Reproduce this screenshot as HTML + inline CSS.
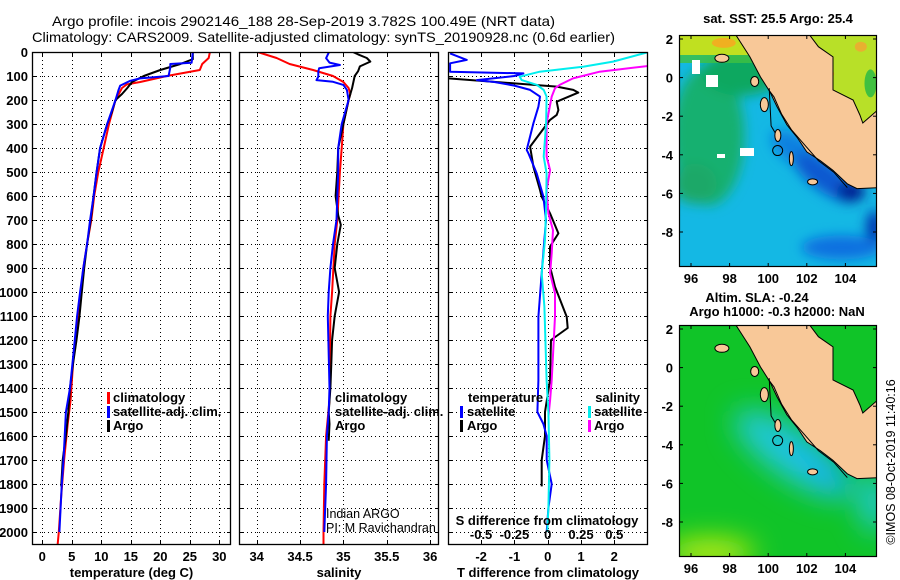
<!DOCTYPE html>
<html><head><meta charset="utf-8"><style>
html,body{margin:0;padding:0;background:#fff;}
svg{display:block;font-family:"Liberation Sans",sans-serif;}
.t{font-size:13px;font-weight:bold;}
.ttl{font-size:14px;}
</style></head><body>
<svg id="fig" width="900" height="580" viewBox="0 0 900 580" xmlns="http://www.w3.org/2000/svg">
<text class="ttl" x="52" y="26" textLength="503" lengthAdjust="spacingAndGlyphs">Argo profile: incois 2902146_188 28-Sep-2019 3.782S 100.49E (NRT data)</text>
<text class="ttl" x="32" y="42" textLength="583" lengthAdjust="spacingAndGlyphs">Climatology: CARS2009. Satellite-adjusted climatology: synTS_20190928.nc (0.6d earlier)</text>
<g id="panels"></g>
<g id="maps"></g>
<text x="0" y="0" font-size="12.5" transform="translate(895,462) rotate(-90)" text-anchor="middle">©IMOS 08-Oct-2019 11:40:16</text>
</svg>
<script>
// ---------- DATA ----------
const depthTicks = [0,100,200,300,400,500,600,700,800,900,1000,1100,1200,1300,1400,1500,1600,1700,1800,1900,2000];
const tempTicks = [0,5,10,15,20,25,30];
const salTicks = [34,34.5,35,35.5,36];
const salTickLabels = ["34","34.5","35","35.5","36"];
const tdiffTicks = [-2,-1,0,1,2];
const sdiffTicks = [-0.5,-0.25,0,0.25,0.5];
const sdiffTickLabels = ["-0.5","-0.25","0","0.25","0.5"];

const tClimDepth = [0,25,50,75,100,125,135,150,200,300,400,500,600,700,800,900,1000,1100,1200,1300,1450,1550,1700,1850,2000,2054];
const tClim = [28.4,28.2,27.1,26.7,21.1,16.6,14.3,13.5,12.4,11.3,10.4,9.5,8.8,8.3,7.6,6.95,6.55,6.0,5.6,5.2,4.8,4.3,3.7,3.2,2.8,2.6];
const tSatDepth = [0,45,50,65,100,110,120,140,160,200,300,400,500,600,700,800,900,1000,1100,1200,1300,1400,1500,1600,1700,1800,1900,2000];
const tSat = [25.5,25.3,21.7,21.7,21.4,16.6,14.9,13.2,12.9,12.4,11.0,9.8,9.2,8.7,8.1,7.6,6.95,6.4,5.9,5.5,5.1,4.7,4.0,3.8,3.6,3.3,3.1,2.9];
const tArgoDepth = [0,30,50,75,100,125,150,175,200,250,300,400,500,600,700,800,900,1000,1100,1200,1300,1400,1500,1600,1700,1810];
const tArgo = [25.5,25.5,23.4,20.0,17.2,15.2,14.4,13.5,12.4,11.8,11.0,9.8,9.2,8.7,8.2,7.6,7.1,6.7,6.3,5.8,5.2,4.7,4.4,4.0,3.45,3.2];

const sClimDepth = [0,25,50,75,100,125,150,175,200,300,400,500,700,800,1000,1100,1450,1600,1800,2000,2054];
const sClim = [34.01,34.23,34.38,34.65,34.88,35.0,35.06,35.08,35.06,35.0,34.98,34.96,34.93,34.90,34.87,34.85,34.84,34.80,34.78,34.77,34.77];
const sSatDepth = [0,0,3,26,44,54,68,82,103,117,124,137,158,200,300,400,500,700,800,900,1000,1100,1400,1500,1600,1800,1900,2000];
const sSat = [34.41,34.83,34.83,34.80,34.84,34.96,34.72,34.71,34.71,34.69,34.88,35.0,35.04,35.06,34.98,34.94,34.94,34.92,34.88,34.85,34.83,34.82,34.84,34.83,34.81,34.80,34.79,34.78];
const sArgoDepth = [0,10,25,40,60,80,100,150,200,300,400,500,600,680,720,800,900,1000,1100,1200,1300,1400,1500,1550,1620];
const sArgo = [35.11,35.17,35.27,35.31,35.19,35.17,35.13,35.10,35.06,35.0,34.94,34.93,34.91,34.94,34.97,34.93,34.90,34.95,34.90,34.87,34.86,34.85,34.83,34.84,34.83];

const dTSatDepth = [6,33,47,82,89,100,117,125,140,158,186,228,297,408,422,506,603,700,922,1103,1367,1500,1550,1600,1700,1800,1900,2000];
const dTSat = [-2.93,-2.43,-2.93,-2.93,-0.73,-1.0,-2.13,-1.6,-1.0,-0.53,-0.23,-0.28,-0.43,-0.63,-0.58,-0.33,-0.13,-0.05,-0.18,-0.28,-0.28,-0.31,-0.13,-0.03,-0.03,0.12,0.02,-0.03];
const dTArgoDepth = [110,144,158,169,207,242,262,283,339,394,478,575,603,672,756,811,894,978,1103,1150,1200,1367,1500,1600,1700,1810];
const dTArgo = [-2.98,0.27,0.77,0.92,0.27,0.32,0.27,0.07,-0.23,-0.53,-0.43,-0.23,-0.18,0.07,0.32,0.07,0.07,0.22,0.57,0.6,0.1,0.07,-0.08,-0.08,-0.18,-0.18];
const dSSatDepth = [0,40,61,82,103,117,137,158,186,297,436,506,644,783,922,1061,1367,1500,1700,1900,2000];
const dSSat = [0.76,0.49,0.27,-0.06,-0.21,-0.195,-0.08,-0.03,-0.008,-0.012,-0.03,-0.008,-0.012,-0.02,-0.045,-0.025,-0.008,0.005,0.013,0.005,-0.003];
const dSArgoDepth = [40,58,82,110,137,151,186,297,436,492,575,672,742,839,922,1006,1103,1367,1450,1520];
const dSArgo = [0.8,0.76,0.39,0.19,0.09,0.055,0.03,-0.008,-0.008,0.018,-0.008,0.005,0.04,0.03,0.018,0.055,0.055,0.03,0.018,0.005];

// ---------- DRAWING ----------
const NS = "http://www.w3.org/2000/svg";
const PT = 52, PB = 545;
const yD = d => PT + d * 0.24;
function mk(tag, attrs, parent) {
  const e = document.createElementNS(NS, tag);
  for (const k in attrs) e.setAttribute(k, attrs[k]);
  parent.appendChild(e);
  return e;
}
function txt(parent, x, y, s, anchor, cls, size, weight) {
  const e = mk("text", {x: x, y: y, "text-anchor": anchor || "start"}, parent);
  if (cls) e.setAttribute("class", cls);
  if (size) e.setAttribute("font-size", size);
  if (weight) e.setAttribute("font-weight", weight);
  e.textContent = s;
  return e;
}
const panelsG = document.getElementById("panels");

function panel(id, L, R, xs, xTicks, xLabels, title, showDepth) {
  const g = mk("g", {}, panelsG);
  
  
  const cp = mk("clipPath", {id: "clip-" + id}, g);
  mk("rect", {x: L, y: PT, width: R - L, height: PB - PT}, cp);
  const grid = mk("g", {stroke: "#000", "stroke-width": 1, "stroke-dasharray": "1,3"}, g);
  
  
  depthTicks.forEach(d => mk("line", {x1: L, x2: R, y1: yD(d) + 0.5, y2: yD(d) + 0.5}, grid));
  xTicks.forEach(v => mk("line", {x1: Math.round(xs(v)) + 0.5, x2: Math.round(xs(v)) + 0.5, y1: PT, y2: PB}, grid));
  const tk = mk("g", {stroke: "#000", "stroke-width": 1}, g);
  depthTicks.forEach(d => { mk("line", {x1: L, x2: L + 4, y1: yD(d) + 0.5, y2: yD(d) + 0.5}, tk); mk("line", {x1: R - 4, x2: R, y1: yD(d) + 0.5, y2: yD(d) + 0.5}, tk); });
  xTicks.forEach(v => { const x = Math.round(xs(v)) + 0.5; mk("line", {x1: x, x2: x, y1: PB - 5, y2: PB}, tk); mk("line", {x1: x, x2: x, y1: PT, y2: PT + 5}, tk); });
  const xl = mk("g", {class: "t"}, g);
  
  
  xTicks.forEach((v, i) => txt(xl, xs(v), 561, xLabels[i], "middle"));
  const tt = txt(g, (L + R) / 2, 577, title, "middle", "t");
  
  
  if (showDepth) {
    const yl = mk("g", {class: "t"}, g);
    
    
    depthTicks.forEach(d => txt(yl, 28, yD(d) + 5, String(d), "end"));
  }
  const lines = mk("g", {"clip-path": "url(#clip-" + id + ")", fill: "none", "stroke-width": 2, "stroke-linejoin": "round"}, g);
  mk("rect", {x: L + 0.5, y: PT + 0.5, width: R - L - 1, height: PB - PT - 1, fill: "none", stroke: "#000", "stroke-width": 1.3}, g);
  return {g: g, lines: lines};
}
function series(p, name, depths, vals, xs, color) {
  const pts = depths.map((d, i) => xs(vals[i]).toFixed(1) + "," + yD(d).toFixed(1)).join(" ");
  const pl = mk("polyline", {points: pts, stroke: color}, p.lines);
  
  
}
function legendItem(g, name, mx, x, y, color, label, anchor) {
  const it = mk("g", {}, g);
  
  
  if (color) mk("rect", {x: mx, y: y - 10, width: 3, height: 12, fill: color}, it);
  txt(it, x, y, label, anchor || "start", "t");
}

// Temperature panel
const xT = v => 42.3 + v * 5.9;
const p1 = panel("temperature-panel", 32, 231, xT, tempTicks, tempTicks.map(String), "temperature (deg C)", true);
series(p1, "temp-climatology-line", tClimDepth, tClim, xT, "#ff0000");
series(p1, "temp-argo-line", tArgoDepth, tArgo, xT, "#000000");
series(p1, "temp-satellite-line", tSatDepth, tSat, xT, "#0000ff");
legendItem(p1.g, "legend-climatology", 107, 113, 402, "#ff0000", "climatology");
legendItem(p1.g, "legend-satellite-adj", 107, 113, 416, "#0000ff", "satellite-adj. clim.");
legendItem(p1.g, "legend-argo", 107, 113, 430, "#000000", "Argo");

// Salinity panel
const xS = v => 256.7 + (v - 34) * 86.7;
const p2 = panel("salinity-panel", 239, 439, xS, salTicks, salTickLabels, "salinity", false);
series(p2, "sal-climatology-line", sClimDepth, sClim, xS, "#ff0000");
series(p2, "sal-argo-line", sArgoDepth, sArgo, xS, "#000000");
series(p2, "sal-satellite-line", sSatDepth, sSat, xS, "#0000ff");
legendItem(p2.g, "legend-climatology-sal", 0, 335, 402, null, "climatology");
legendItem(p2.g, "legend-satellite-sal", 0, 335, 416, null, "satellite-adj. clim.");
legendItem(p2.g, "legend-argo-sal", 0, 335, 430, null, "Argo");
const ia = txt(p2.g, 326, 518, "Indian ARGO", "start", null, 12.5);


const pi = txt(p2.g, 326, 532, "PI: M Ravichandran", "start", null, 12.5);



// Difference panel
const xDT = v => 547.7 + v * 33.3;
const xDS = v => 547.7 + v * 133.2;
const p3 = panel("difference-panel", 448, 648, xDT, tdiffTicks, tdiffTicks.map(String), "T difference from climatology", false);
series(p3, "tdiff-argo-line", dTArgoDepth, dTArgo, xDT, "#000000");
series(p3, "sdiff-argo-line", dSArgoDepth, dSArgo, xDS, "#ff00ff");
series(p3, "tdiff-satellite-line", dTSatDepth, dTSat, xDT, "#0000ff");
series(p3, "sdiff-satellite-line", dSSatDepth, dSSat, xDS, "#00eeee");
legendItem(p3.g, "legend-temperature-head", 0, 468, 402, null, "temperature");
legendItem(p3.g, "legend-tdiff-satellite", 460, 467, 416, "#0000ff", "satellite");
legendItem(p3.g, "legend-tdiff-argo", 460, 467, 430, "#000000", "Argo");
legendItem(p3.g, "legend-salinity-head", 0, 640, 402, null, "salinity", "end");
legendItem(p3.g, "legend-sdiff-satellite", 588, 594, 416, "#00eeee", "satellite");
legendItem(p3.g, "legend-sdiff-argo", 588, 594, 430, "#ff00ff", "Argo");
const sdt = txt(p3.g, 547, 525, "S difference from climatology", "middle", "t");


const sdl = mk("g", {class: "t"}, p3.g);


sdiffTicks.forEach((v, i) => txt(sdl, xDS(v), 539, sdiffTickLabels[i], "middle"));

// ---------- MAPS ----------
const mapsG = document.getElementById("maps");
function map(id, top, kind) {
  const L = 679, R = 877, T = top, B = top + 232;
  const lx = lon => 691 + (lon - 96) * 19.3;
  const ly = lat => top + 4 + (2 - lat) * 19.3;
  const poly = pts => pts.map(p => lx(p[0]).toFixed(1) + "," + ly(p[1]).toFixed(1)).join(" ");
  const g = mk("g", {}, mapsG);
  
  
  const defs = mk("defs", {}, g);
  const cp = mk("clipPath", {id: "mc-" + id}, defs);
  mk("rect", {x: L, y: T, width: R - L, height: B - T}, cp);
  const blur = mk("filter", {id: "bl-" + id, x: "-50%", y: "-50%", width: "200%", height: "200%"}, defs);
  mk("feGaussianBlur", {stdDeviation: kind === "sst" ? 6 : 14}, blur);
  const c = mk("g", {"clip-path": "url(#mc-" + id + ")"}, g);
  const eastRegion = [[102.0,2.4],[105.8,2.4],[105.8,-1.57],[104.9,-2.35],[104.75,-1.94],[104.4,-1.16],[103.36,-0.64],[103.36,1.07],[102.6,1.6]];
  if (kind === "sst") {
    mk("rect", {x: L, y: T, width: 200, height: 232, fill: "#14b8e4"}, c);
    const f = mk("g", {filter: "url(#bl-" + id + ")"}, c);
    mk("ellipse", {cx: lx(96.9), cy: ly(-3.0), rx: 36, ry: 70, fill: "#18b070"}, f);
    mk("ellipse", {cx: lx(98.6), cy: ly(0.2), rx: 40, ry: 22, fill: "#10a860"}, f);
    mk("ellipse", {cx: lx(96.2), cy: ly(-5.5), rx: 22, ry: 20, fill: "#1ca868"}, f);
    mk("ellipse", {cx: lx(101.5), cy: ly(-3.8), rx: 30, ry: 14, fill: "#1080e0", transform: "rotate(35," + lx(101.5) + "," + ly(-3.8) + ")"}, f);
    mk("ellipse", {cx: lx(103), cy: ly(-5.2), rx: 38, ry: 14, fill: "#0a58d0", transform: "rotate(35," + lx(103) + "," + ly(-5.2) + ")"}, f);
    mk("ellipse", {cx: lx(104.3), cy: ly(-5.9), rx: 14, ry: 10, fill: "#001a90"}, f);
    mk("ellipse", {cx: lx(105.5), cy: ly(-7.8), rx: 8, ry: 18, fill: "#0030b0"}, f);
    mk("ellipse", {cx: lx(103.8), cy: ly(-8.8), rx: 40, ry: 12, fill: "#1070e0"}, f);
    mk("rect", {x: L, y: T, width: 95, height: 20, fill: "#c0e020"}, c);
    mk("ellipse", {cx: lx(97.7), cy: ly(1.8), rx: 12, ry: 5, fill: "#f0b020"}, c);
    mk("rect", {x: L, y: T + 20, width: 90, height: 8, fill: "#40c040", opacity: 0.8}, c);
    const er = mk("polygon", {points: poly(eastRegion), fill: "#b8e028"}, c);
    
    
    mk("ellipse", {cx: lx(103.0), cy: ly(0.2), rx: 8, ry: 5, fill: "#f0b020"}, c);
    mk("ellipse", {cx: lx(104.8), cy: ly(1.6), rx: 6, ry: 5, fill: "#e8b030"}, c);
    mk("ellipse", {cx: lx(105.3), cy: ly(-0.3), rx: 6, ry: 14, fill: "#40c040"}, c);
    mk("rect", {x: 692, y: T + 25, width: 8, height: 14, fill: "#fff"}, c);
    mk("rect", {x: 706, y: T + 40, width: 12, height: 12, fill: "#fff"}, c);
    mk("rect", {x: 740, y: T + 113, width: 14, height: 8, fill: "#fff"}, c);
    mk("rect", {x: 717, y: T + 119, width: 8, height: 4, fill: "#fff"}, c);
  } else {
    mk("rect", {x: L, y: T, width: 200, height: 232, fill: "#10c428"}, c);
    const f = mk("g", {filter: "url(#bl-" + id + ")"}, c);
    mk("ellipse", {cx: lx(101.3), cy: ly(-4.5), rx: 70, ry: 24, fill: "#20c8d8", transform: "rotate(35," + lx(101.3) + "," + ly(-4.5) + ")"}, f);
    mk("ellipse", {cx: lx(102.5), cy: ly(-4.8), rx: 42, ry: 12, fill: "#18b8ee", transform: "rotate(35," + lx(102.5) + "," + ly(-4.8) + ")"}, f);
    mk("ellipse", {cx: lx(103.2), cy: ly(-5.8), rx: 14, ry: 10, fill: "#10a8f0"}, f);
    mk("ellipse", {cx: lx(97), cy: ly(-9.6), rx: 45, ry: 14, fill: "#c8ee10"}, f);
    mk("ellipse", {cx: lx(105.5), cy: ly(-7.0), rx: 14, ry: 30, fill: "#20c8e0"}, f);
    const er = mk("polygon", {points: poly(eastRegion), fill: "#10c428"}, c);
    
    
  }
  const land = [[98.2,2.4],[102.0,2.4],[102.6,1.6],[103.36,1.07],[103.36,-0.64],[104.4,-1.16],[104.75,-1.94],[104.9,-2.35],[105.8,-1.57],[105.8,-5.7],[104.6,-5.75],[104.1,-5.5],[103.35,-4.8],[102.7,-4.3],[102,-3.85],[101.5,-3.1],[100.97,-2.45],[100.45,-1.5],[100.1,-0.75],[99.6,0.03],[99.05,1.07]];
  const lp = mk("polygon", {points: poly(land), fill: "#f8c898", stroke: "#000", "stroke-width": 1}, c);
  
  
  const shelf = [[100.0,-0.6],[100.3,-1.0],[100.7,-1.9],[101.2,-2.7],[101.9,-3.5],[102.6,-4.3],[103.4,-4.9],[104.1,-5.7]];
  mk("polyline", {points: poly(shelf), fill: "none", stroke: "#000", "stroke-width": 1}, c);
  mk("polyline", {points: poly([[100.05,-0.55],[100.15,-2.5],[100.5,-3.1]]), fill: "none", stroke: "#000", "stroke-width": 1}, c);
  [[97.6,1.0,7,4],[99.3,-0.2,4,5],[99.8,-1.4,4,7],[100.5,-3.0,3,6],[101.2,-4.2,2,7],[102.3,-5.4,5,3]].forEach(a => {
    mk("ellipse", {cx: lx(a[0]), cy: ly(a[1]), rx: a[2], ry: a[3], fill: "#f8c898", stroke: "#000", "stroke-width": 1}, c);
  });
  const pos = mk("circle", {cx: lx(100.49), cy: ly(-3.78), r: 5, fill: "none", stroke: "#000", "stroke-width": 1}, c);
  
  
  mk("rect", {x: L + 0.5, y: T + 0.5, width: R - L - 1, height: B - T - 1, fill: "none", stroke: "#000", "stroke-width": 1.2}, g);
  const ticks = mk("g", {class: "t"}, g);
  
  
  [2,0,-2,-4,-6,-8].forEach(la => {
    txt(ticks, 673, ly(la) + 5, String(la), "end");
    mk("line", {x1: L, x2: L + 4, y1: ly(la), y2: ly(la), stroke: "#000"}, g);
    mk("line", {x1: R - 4, x2: R, y1: ly(la), y2: ly(la), stroke: "#000"}, g);
  });
  [96,98,100,102,104].forEach(lo => {
    txt(ticks, lx(lo), B + 16, String(lo), "middle");
    mk("line", {x1: lx(lo), x2: lx(lo), y1: B - 4, y2: B, stroke: "#000"}, g);
    mk("line", {x1: lx(lo), x2: lx(lo), y1: T, y2: T + 4, stroke: "#000"}, g);
  });
}
map("sst-map", 35, "sst");
map("sla-map", 325, "sla");
const m1 = txt(mapsG, 778, 23, "sat. SST: 25.5 Argo: 25.4", "middle", "t");


const m2 = txt(mapsG, 757, 302, "Altim. SLA: -0.24", "middle", "t");


const m3 = txt(mapsG, 777, 316, "Argo h1000: -0.3 h2000: NaN", "middle", "t");


</script>
</body></html>
